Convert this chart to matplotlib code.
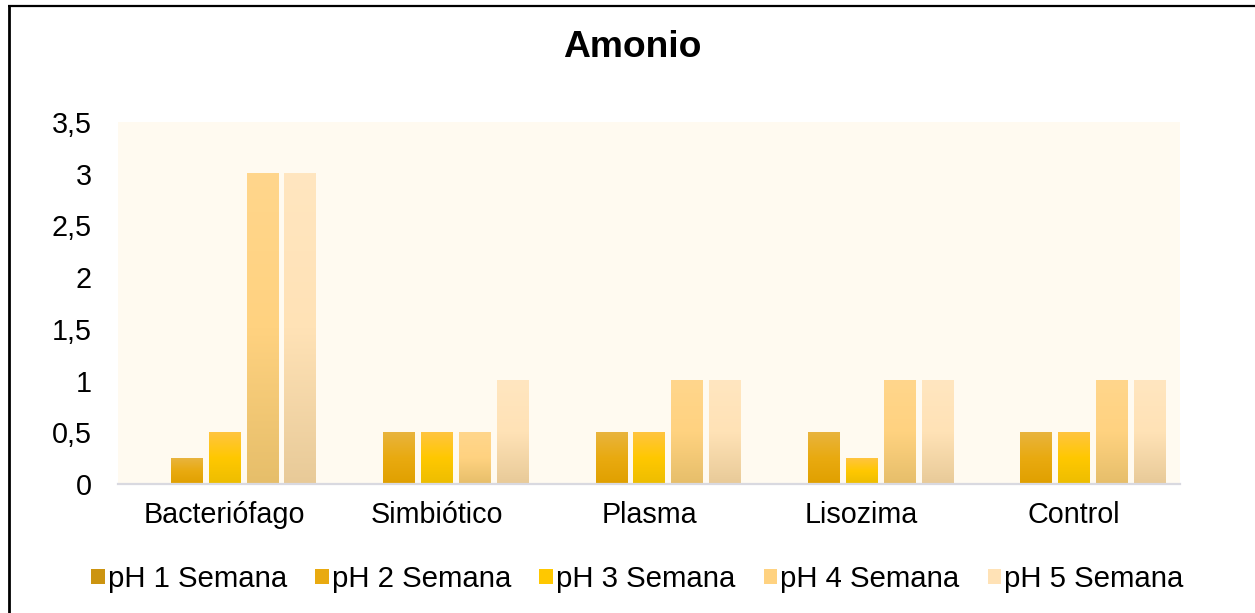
import matplotlib
matplotlib.use('Agg') # no display
import matplotlib.pyplot as plt # plotting library
import numpy as np # numbers
from matplotlib.colors import LinearSegmentedColormap # gradient colour maps
from matplotlib.lines import Line2D # frame lines
from matplotlib.patches import Patch # legend patches

categories = ['Bacteriófago', 'Simbiótico', 'Plasma', 'Lisozima', 'Control'] # x categories
series = ['pH 1 Semana', 'pH 2 Semana', 'pH 3 Semana', 'pH 4 Semana', 'pH 5 Semana'] # legend names
ph1 = [0, 0, 0, 0, 0] # pH 1 semana
ph2 = [0.25, 0.5, 0.5, 0.5, 0.5] # pH 2 semana
ph3 = [0.5, 0.5, 0.5, 0.25, 0.5] # pH 3 semana
ph4 = [3, 0.5, 1, 1, 1] # pH 4 semana
ph5 = [3, 1, 1, 1, 1] # pH 5 semana
yticks = [0, 0.5, 1, 1.5, 2, 2.5, 3, 3.5] # y ticks
ytick_labels = ['0', '0,5', '1', '1,5', '2', '2,5', '3', '3,5'] # comma decimals

# gradient stops per series: top, middle, bottom
gradients = [
    ['#D6A040', '#CC9410', '#BF8A00'],
    ['#E8B43E', '#E9AA10', '#E0A000'],
    ['#FFC440', '#FFC800', '#EDBD00'],
    ['#FFD68C', '#FFD280', '#E6BE6A'],
    ['#FFE6C0', '#FFE2B6', '#E8CA98'],
]

plt.rcParams['font.family'] = ['Liberation Sans', 'DejaVu Sans'] # Arial look-alike

fig = plt.figure(figsize=(12.55, 6.13), dpi=100) # figure size
ax = fig.add_axes([118/1255, 1-484/613, 1062/1255, 362/613]) # plot area
ax.set_facecolor('#FFFAF0') # plot area fill

values = [ph1, ph2, ph3, ph4, ph5]
x = np.arange(len(categories))
step = 0.178 # bar spacing inside group
width = 0.146 # bar width

for i, vals in enumerate(values):
    cmap = LinearSegmentedColormap.from_list('g%d' % i, gradients[i][::-1]) # bottom -> top
    grad = np.linspace(0, 1, 256).reshape(-1, 1)
    for xi, v in zip(x + (i - 2) * step, vals):
        if v <= 0:
            continue
        ax.bar(xi, v, width=width, color=gradients[i][1], linewidth=0, zorder=2) # base bar
        ax.imshow(grad, cmap=cmap, origin='lower', aspect='auto', zorder=3,
                  extent=(xi - width/2, xi + width/2, 0, v), interpolation='bilinear') # gradient fill

ax.set_xlim(-0.5, len(categories) - 0.5)
ax.set_ylim(0, 3.5)
ax.set_xticks(x)
ax.set_xticklabels(categories, fontsize=20.7)
ax.set_yticks(yticks)
ax.set_yticklabels(ytick_labels, fontsize=20.7)
ax.tick_params(axis='both', length=0)
ax.tick_params(axis='y', pad=19)
ax.tick_params(axis='x', pad=12)
for s in ['top', 'right', 'left']:
    ax.spines[s].set_visible(False)
ax.spines['bottom'].set_color('#D9D9E0')
ax.spines['bottom'].set_linewidth(1.6)
ax.spines['bottom'].set_zorder(4)

fig.text(0.5 + 5/1255, 1 - 57/613, 'Amonio', fontsize=26.8, fontweight='bold', ha='center', va='baseline') # title

handles = [Patch(facecolor=g[1], edgecolor='none') for g in gradients]
fig.legend(handles, series, loc='center', bbox_to_anchor=(0.508, 1 - 579/613), ncol=5, frameon=False,
           fontsize=21.2, handlelength=0.45, handleheight=0.45, handletextpad=0.12, columnspacing=0.95)

# partial frame round the chart (left and top only)
fig.add_artist(Line2D([9/1255, 9/1255], [0, 1 - 5.5/613], transform=fig.transFigure, color='black',
                      linewidth=2, solid_capstyle='butt'))
fig.add_artist(Line2D([8/1255, 1], [1 - 5.5/613, 1 - 5.5/613], transform=fig.transFigure, color='black',
                      linewidth=1.6, solid_capstyle='butt'))

plt.savefig('out.png', dpi=100) # save output
